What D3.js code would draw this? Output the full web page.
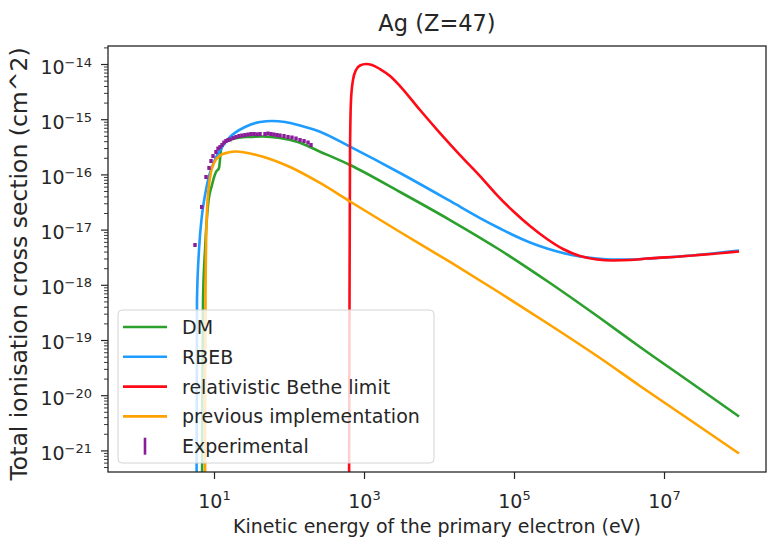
<!DOCTYPE html>
<html>
<head>
<meta charset="utf-8">
<script src="https://d3js.org/d3.v7.min.js"></script>
<style>
    body {
        margin: 0;
        background: #fff;
        font-family: "DejaVu Sans", sans-serif;
    }
    svg text {
        fill: #262626;
    }
    .tick line {
        stroke: #262626;
    }
</style>
</head>
<body>
<script>
// ---- data (energy in eV, cross section in cm^2) ----
const seriesNames = ["DM", "RBEB", "relativistic Bethe limit", "previous implementation", "Experimental"];

const energyDM = [6.92, 6.98, 7.14, 7.59, 8.32, 9.40, 10.63, 11.66, 12.40, 13.59, 17.92, 27.54, 45.02, 75.86,
    127.9, 259.1, 651, 3020, 14020, 65080, 302000, 1.402e6, 4.786e6, 2.222e7, 1e8];
const sigmaDM = [5.5e-23, 8.18e-21, 5.30e-19, 4.27e-18, 2.79e-17, 6.43e-17, 1.105e-16, 1.31e-16, 2.77e-16, 3.71e-16,
    4.38e-16, 4.76e-16, 4.86e-16, 4.56e-16, 3.91e-16, 2.58e-16, 1.48e-16, 4.80e-17, 1.49e-17, 4.27e-18, 1.078e-18,
    2.50e-19, 7.47e-20, 1.73e-20, 4.11e-21];

const energyRBEB = [5.84, 5.93, 6.31, 6.92, 7.59, 8.58, 10, 12.02, 16.34, 25.90, 41.06, 59.34, 88.45, 140.2, 259.1,
    651, 3020, 14020, 35220, 65080, 96980, 163400, 275400, 450100, 758600, 1.279e6, 2.089e6, 3.522e6, 5.934e6,
    1.634e7, 1e8];
const sigmaRBEB = [5.5e-23, 5.30e-19, 4.27e-18, 1.84e-17, 4.23e-17, 9.35e-17, 1.68e-16, 2.77e-16, 4.76e-16, 7.23e-16,
    8.90e-16, 9.28e-16, 8.90e-16, 7.69e-16, 5.94e-16, 3.18e-16, 1.06e-16, 3.30e-17, 1.62e-17, 1.047e-17, 7.98e-18,
    5.84e-18, 4.55e-18, 3.77e-18, 3.26e-18, 2.99e-18, 2.87e-18, 2.87e-18, 2.99e-18, 3.26e-18, 4.18e-18];

const energyBethe = [631, 641, 651, 671, 713, 782, 884, 1063, 1279, 1634, 2222, 3020, 5580, 10310, 19050, 35220,
    59340, 96980, 163400, 275400, 450100, 758600, 1.279e6, 2.089e6, 3.522e6, 5.934e6, 1.634e7, 1e8];
const sigmaBethe = [5.5e-23, 5.30e-19, 2.77e-16, 2.23e-15, 5.13e-15, 7.78e-15, 9.39e-15, 1.0e-14, 9.59e-15, 8.11e-15,
    6.06e-15, 3.99e-15, 1.468e-15, 5.62e-16, 2.245e-16, 9.35e-17, 4.23e-17, 2.17e-17, 1.16e-17, 6.76e-18, 4.45e-18,
    3.32e-18, 2.87e-18, 2.76e-18, 2.81e-18, 2.99e-18, 3.26e-18, 4.01e-18];

const energyPrev = [7.59, 7.63, 7.70, 7.82, 8.07, 8.58, 9.12, 10, 12.02, 15.37, 19.65, 25.90, 45.02, 103.1, 259.1,
    651, 3020, 14020, 65080, 302000, 1.402e6, 4.786e6, 2.222e7, 1e8];
const sigmaPrev = [5.5e-23, 8.18e-21, 5.30e-19, 4.27e-18, 2.26e-17, 6.43e-17, 1.105e-16, 1.61e-16, 2.20e-16, 2.49e-16,
    2.60e-16, 2.49e-16, 2.09e-16, 1.36e-16, 6.99e-17, 3.23e-17, 9.05e-18, 2.59e-18, 7.10e-19, 1.87e-19, 4.72e-20,
    1.47e-20, 3.55e-21, 8.79e-22];

const energyExp = [5.58, 6.85, 7.82, 8.58, 9.12, 9.70, 10.63, 11.31, 12.02, 12.79, 13.59, 14.45, 15.37, 16.34, 17.92,
    19.65, 21.54, 23.62, 25.90, 28.40, 31.14, 34.15, 37.45, 41.06, 47.86, 52.48, 57.54, 63.10, 69.18, 75.86, 85.77,
    97.0, 109.6, 124.0, 140.2, 158.5, 179.2, 196.5];
const sigmaExp = [5.26e-18, 2.57e-17, 8.97e-17, 1.31e-16, 1.75e-16, 2.15e-16, 2.55e-16, 2.94e-16, 3.13e-16, 3.41e-16,
    3.78e-16, 4.03e-16, 4.20e-16, 4.29e-16, 4.56e-16, 4.76e-16, 4.96e-16, 5.07e-16, 5.17e-16, 5.28e-16, 5.39e-16,
    5.39e-16, 5.32e-16, 5.39e-16, 5.39e-16, 5.51e-16, 5.39e-16, 5.28e-16, 5.17e-16, 5.07e-16, 4.96e-16, 4.76e-16,
    4.66e-16, 4.47e-16, 4.20e-16, 4.03e-16, 3.78e-16, 3.41e-16];

const xLimits = [0.386, 2.29e8];
const yLimits = [4.06e-22, 2.12e-14];
const xTicks = [1e1, 1e3, 1e5, 1e7];
const yTicks = [1e-21, 1e-20, 1e-19, 1e-18, 1e-17, 1e-16, 1e-15, 1e-14];

// ---- layout ----
const width = 769, height = 543;
const margin = {top: 46, right: 3, bottom: 71, left: 108};

const colors = ["#2ca02c", "#1e9cff", "#ff0a16", "#ffa200", "#8a1c9a"];

const svg = d3.select("body").append("svg")
    .attr("width", width)
    .attr("height", height);

const x = d3.scaleLog().domain(xLimits).range([margin.left, width - margin.right]);
const y = d3.scaleLog().domain(yLimits).range([height - margin.bottom, margin.top]);

svg.append("clipPath").attr("id", "plot-clip")
    .append("rect")
    .attr("x", margin.left).attr("y", margin.top)
    .attr("width", width - margin.left - margin.right)
    .attr("height", height - margin.top - margin.bottom);

const zip = (a, b) => a.map((v, i) => [v, b[i]]);
const lineSeries = [
    zip(energyDM, sigmaDM),
    zip(energyRBEB, sigmaRBEB),
    zip(energyBethe, sigmaBethe),
    zip(energyPrev, sigmaPrev)
];

const line = d3.line()
    .x(d => x(d[0]))
    .y(d => y(d[1]))
    .curve(d3.curveMonotoneX);

const plot = svg.append("g").attr("clip-path", "url(#plot-clip)");

lineSeries.forEach((s, i) => {
    plot.append("path")
        .datum(s)
        .attr("fill", "none")
        .attr("stroke", colors[i])
        .attr("stroke-width", 2.6)
        .attr("d", line);
});

plot.selectAll("rect.exp")
    .data(zip(energyExp, sigmaExp))
    .enter().append("rect")
    .attr("class", "exp")
    .attr("x", d => x(d[0]) - 1.7)
    .attr("y", d => y(d[1]) - 2)
    .attr("width", 3.4)
    .attr("height", 4)
    .attr("fill", colors[4]);

// ---- axes ----
function powerLabel(sel, supShift) {
    sel.each(function (d) {
        const t = d3.select(this);
        const e = Math.round(Math.log10(d));
        t.text(null);
        t.append("tspan").text("10");
        t.append("tspan")
            .attr("dy", supShift)
            .attr("font-size", 13)
            .text(e < 0 ? "\u2212" + (-e) : e);
    });
}

const gx = svg.append("g")
    .attr("transform", `translate(0,${height - margin.bottom})`)
    .call(d3.axisBottom(x).tickValues(xTicks).tickSize(7));
gx.select(".domain").remove();
gx.selectAll(".tick line").attr("stroke-width", 1.2);
gx.selectAll(".tick text")
    .attr("font-size", 19)
    .attr("font-family", "DejaVu Sans")
    .attr("y", 36).attr("dy", 0)
    .call(powerLabel, -8);

const yMinor = [];
for (let k = -22; k <= -14; k++) {
    for (let m = 2; m <= 9; m++) {
        const v = m * Math.pow(10, k);
        if (v > yLimits[0] && v < yLimits[1]) yMinor.push(v);
    }
}

const gyMinor = svg.append("g")
    .attr("transform", `translate(${margin.left},0)`)
    .call(d3.axisLeft(y).tickValues(yMinor).tickSize(4).tickFormat(""));
gyMinor.select(".domain").remove();
gyMinor.selectAll(".tick line").attr("stroke-width", 0.9);

const gy = svg.append("g")
    .attr("transform", `translate(${margin.left},0)`)
    .call(d3.axisLeft(y).tickValues(yTicks).tickSize(7).tickPadding(9));
gy.select(".domain").remove();
gy.selectAll(".tick line").attr("stroke-width", 1.2);
gy.selectAll(".tick text")
    .attr("font-size", 19)
    .attr("font-family", "DejaVu Sans")
    .attr("dy", 9)
    .call(powerLabel, -7);

// frame
svg.append("rect")
    .attr("x", margin.left).attr("y", margin.top)
    .attr("width", width - margin.left - margin.right)
    .attr("height", height - margin.top - margin.bottom)
    .attr("fill", "none")
    .attr("stroke", "#262626")
    .attr("stroke-width", 1.3);

// ---- legend ----
const legend = svg.append("g").attr("transform", "translate(118,310)");
legend.append("rect")
    .attr("width", 316).attr("height", 153)
    .attr("rx", 4)
    .attr("fill", "#fff").attr("fill-opacity", 0.8)
    .attr("stroke", "#d4d4d4");

seriesNames.forEach((name, i) => {
    const cy = 17 + i * 29.8;
    if (i < 4) {
        legend.append("line")
            .attr("x1", 5).attr("x2", 49)
            .attr("y1", cy).attr("y2", cy)
            .attr("stroke", colors[i]).attr("stroke-width", 2.6);
    } else {
        legend.append("line")
            .attr("x1", 27).attr("x2", 27)
            .attr("y1", cy - 8.5).attr("y2", cy + 8.5)
            .attr("stroke", colors[i]).attr("stroke-width", 2.6);
    }
    legend.append("text")
        .attr("x", 64).attr("y", cy + 7)
        .attr("font-size", 19)
        .text(name);
});

// ---- titles ----
svg.append("text")
    .attr("x", (margin.left + width - margin.right) / 2)
    .attr("y", 31)
    .attr("text-anchor", "middle")
    .attr("font-size", 22.5)
    .text("Ag (Z=47)");

svg.append("text")
    .attr("x", (margin.left + width - margin.right) / 2)
    .attr("y", 533)
    .attr("text-anchor", "middle")
    .attr("font-size", 19)
    .text("Kinetic energy of the primary electron (eV)");

svg.append("text")
    .attr("transform", "translate(27,264) rotate(-90)")
    .attr("text-anchor", "middle")
    .attr("font-size", 23.5)
    .text("Total ionisation cross section (cm^2)");
</script>
</body>
</html>
